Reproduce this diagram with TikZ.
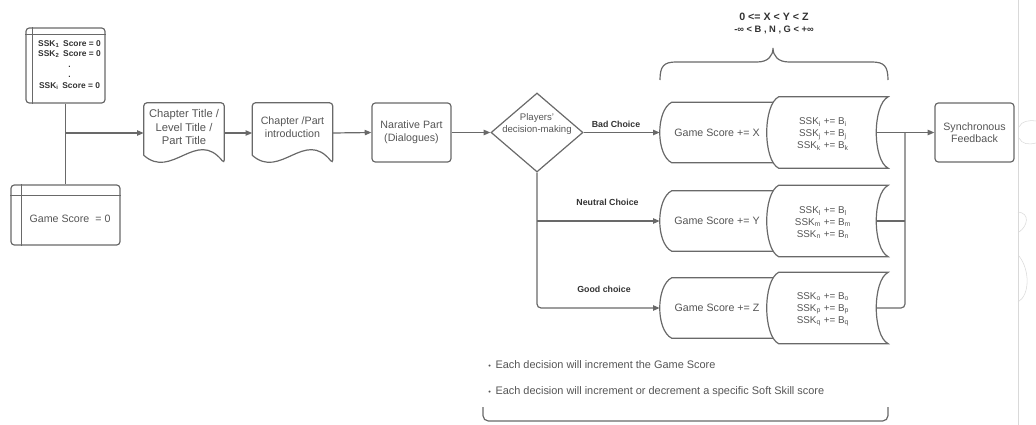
\documentclass[tikz,border=0pt]{standalone}
\usepackage{fontspec}
\setmainfont{Liberation Sans}
\usepackage{tikz}
\usetikzlibrary{shapes,arrows.meta,calc}
\definecolor{linegray}{RGB}{105,105,105}
\definecolor{textgray}{RGB}{85,85,85}
\definecolor{boldgray}{RGB}{50,50,50}

\begin{document}
\begin{tikzpicture}[x=0.75pt,y=0.75pt,yscale=-1,
    every node/.style={text=textgray, font=\fontsize{8}{10}\selectfont, align=center, inner sep=0pt},
    line/.style={draw=linegray, line width=0.9pt},
    arrow/.style={line, -{Triangle[length=5pt,width=4pt]}},
    box/.style={line, rounded corners=2.5pt},
    docshape/.style={minimum width=60pt, minimum height=45pt},
    decision/.style={line, diamond, minimum width=69pt, minimum height=59.25pt},
    gsshape/.style={minimum width=97.5pt, minimum height=45pt},
    skshape/.style={minimum width=90.75pt, minimum height=53.25pt},
    tabletext/.style={text=boldgray, font=\fontsize{6.3}{7.9}\selectfont\bfseries},
    sktext/.style={font=\fontsize{7.4}{9}\selectfont},
    lbl/.style={text=boldgray, font=\fontsize{6.6}{8}\selectfont\bfseries},
    cond/.style={text=boldgray, font=\fontsize{8}{10}\selectfont\bfseries},
    note/.style={anchor=west, font=\fontsize{8.2}{10}\selectfont},
    edge/.style={draw=gray!30, line width=0.4pt}]
    \useasboundingbox (0,0) rectangle (1036,425);

    %Shape: score tables
    \node[box, minimum width=59.25pt, minimum height=56.25pt] (ssk) at (65.5,65.5) {};
    \node[box, minimum width=81.75pt, minimum height=45pt] (gs0) at (65.5,215) {};
    \foreach \n/\d in {ssk/7, gs0/11} {
        \draw[line, line width=0.7pt] ($(\n.north west)+(\d,0)$) -- ($(\n.south west)+(\d,0)$);
        \draw[line, line width=0.7pt] ($(\n.north west)+(0,\d)$) -- ($(\n.north east)+(0,\d)$);
    }
    % Text Node
    \node[tabletext] (ssktext) at (69.5,65) {SSK\textsubscript{1}\, Score = 0\\SSK\textsubscript{2}\, Score = 0\\.\\.\\SSK\textsubscript{i}\, Score = 0};
    % Text Node
    \node (gs0text) at (70,219) {Game Score\ \ = 0};

    %Shape: documents
    \node[docshape] (title) at (184,133) {};
    \node[docshape] (intro) at (292.5,133) {};
    \foreach \n in {title,intro}
        \draw[line] ($(\n.south west)+(0,-8)$) [rounded corners=2.5pt] -- (\n.north west) -- (\n.north east) -- (\n.south east) [sharp corners] .. controls +(-28,-35) and +(28,25) .. ($(\n.south west)+(0,-8)$);
    % Text Node
    \node[font=\fontsize{8.4}{9.9}\selectfont] (titletext) at (184,127) {Chapter Title /\\Level Title /\\Part Title};
    % Text Node
    \node (introtext) at (292.5,127) {Chapter /Part\\introduction};

    %Shape: Rectangle
    \node[box, minimum width=59.25pt, minimum height=44.25pt, font=\fontsize{8}{9.75}\selectfont] (narr) at (411.5,132.5) {Narative Part\\(Dialogues)};
    %Shape: Diamond
    \node[decision] (dec) at (537,132.5) {};
    \node[sktext, font=\fontsize{7.2}{8.3}\selectfont] (dectext) at (537,124) {Players'\\decision-making};
    %Shape: Rectangle
    \node[box, minimum width=59.25pt, minimum height=44.25pt, font=\fontsize{8}{9}\selectfont] (fb) at (974.5,132.5) {Synchronous\\Feedback};

    %Shape: stored data rows
    \foreach \r/\y/\a/\b/\c in {X/132.5/i/j/k, Y/221/l/m/n, Z/308/o/p/q} {
        \node[gsshape] (gs\r) at (725,\y) {};
        \node[skshape] (sk\r) at (827.5,\y) {};
        \foreach \n in {gs\r, sk\r}
            \draw[line, fill=white] ($(\n.north west)+(12,0)$) -- (\n.north east) .. controls +(-16,8) and +(-16,-8) .. (\n.south east) -- ($(\n.south west)+(12,0)$) .. controls +(-16,-8) and +(-16,8) .. ($(\n.north west)+(12,0)$) -- cycle;
        \node (gstext\r) at (717,\y) {Game Score += \r};
        \node[sktext] (sktext\r) at (823,\y+1.5) {SSK\textsubscript{\a} += B\textsubscript{\a}\\SSK\textsubscript{\b} += B\textsubscript{\b}\\SSK\textsubscript{\c} += B\textsubscript{\c}};
    }

    %Straight Lines
    \draw[line] (ssk.south) -- (gs0.north);
    \draw[arrow] (ssk.south |- title.west) -- (title.west);
    \draw[arrow] (title.east) -- (intro.west);
    \draw[arrow] (intro.east) -- (narr.west);
    \draw[arrow] (narr.east) -- (dec.west);
    \draw[arrow] (dec.east) -- (gsX.west);
    \draw[arrow, rounded corners=3pt] (dec.south) |- (gsZ.west);
    \draw[arrow] (dec.south |- gsY.west) -- (gsY.west);

    \coordinate (join) at (905,132.5);
    \draw[line, rounded corners=3pt] ($(skZ.east)+(-12,0)$) -| (join);
    \draw[line] ($(skY.east)+(-12,0)$) -- (join |- skY.east);
    \draw[line] ($(skX.east)+(-12,0)$) -- (join);
    \draw[arrow] (join) -- (fb.west);

    % Text Node
    \node[lbl] (bad) at (616,124) {Bad Choice};
    \node[lbl] (neutral) at (607.5,202) {Neutral Choice};
    \node[lbl] (good) at (604,289) {Good choice};

    %Brace and bracket
    \draw[line] (660,80) .. controls (660,66) and (664,62) .. (676,62) -- (757,62) .. controls (768,62) and (773,56) .. (773,48) .. controls (773,56) and (778,62) .. (789,62) -- (872,62) .. controls (884,62) and (888,66) .. (888,80);
    \draw[line, rounded corners=4pt] (483,407) -- (483,421) -- (888,421) -- (888,407);

    % Text Node
    \node[cond] (cond1) at (774,17) {0 <= X < Y < Z};
    \node[cond, font=\fontsize{7}{8}\selectfont\bfseries] (cond2) at (774,30) {-∞ < B , N , G < +∞};
    \node[note] (note1) at (488,365) {{\fontsize{5.5}{6}\selectfont\textbullet}\hspace{3.5pt}Each decision will increment the Game Score};
    \node[note] (note2) at (488,392) {{\fontsize{5.5}{6}\selectfont\textbullet}\hspace{3.5pt}Each decision will increment or decrement a specific Soft Skill score};

    %Edge of the capture
    \draw[edge] (1018,0) -- (1018,425);
    \draw[edge] (1019,127) .. controls (1022,121) and (1028,120) .. (1036,121);
    \draw[edge] (1019,138) .. controls (1022,144) and (1028,145) .. (1036,143);
    \draw[edge] (1018,212) .. controls (1030,213) and (1028,226) .. (1019,232);
    \draw[edge] (1019,256) .. controls (1030,270) and (1030,295) .. (1018,302);
\end{tikzpicture}
\end{document}
